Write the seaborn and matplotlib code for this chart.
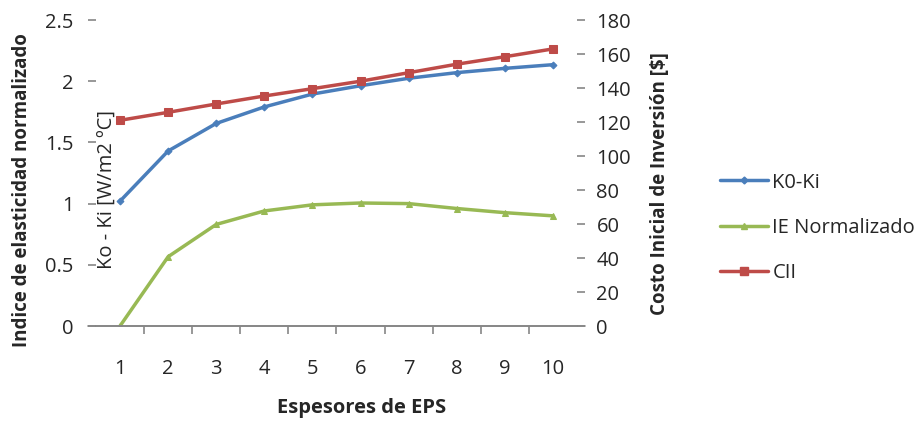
import numpy as np
import pandas as pd
import matplotlib.pyplot as plt
import seaborn as sns
from matplotlib.lines import Line2D

# data
espesores = [1, 2, 3, 4, 5, 6, 7, 8, 9, 10]
k0_ki = [1.02, 1.43, 1.655, 1.79, 1.895, 1.963, 2.024, 2.07, 2.105, 2.135]
ie_norm = [0.0, 0.566, 0.83, 0.94, 0.99, 1.005, 1.0, 0.96, 0.926, 0.90]
cii = [121.0, 125.7, 130.6, 135.3, 139.6, 144.0, 149.0, 154.0, 158.4, 163.0]

df = pd.DataFrame({"esp": espesores, "k": k0_ki, "ie": ie_norm, "cii": cii})

sns.set_style("white")
plt.rcParams["font.family"] = ["Open Sans", "DejaVu Sans"]

blue = "#4A7EBB"
green = "#98B954"
red = "#BE4B48"
grey = "#868686"

fig = plt.figure(figsize=(9.21, 4.23), dpi=100)
ax = fig.add_axes([0.1042, 0.2293, 0.5223, 0.7234])
ax2 = ax.twinx()

sns.lineplot(data=df, x="esp", y="k", ax=ax, color=blue, lw=2.5,
             marker="D", ms=3.5, mec=blue, label="K0-Ki", legend=False)
sns.lineplot(data=df, x="esp", y="ie", ax=ax, color=green, lw=2.5,
             marker="^", ms=5, mec=green, label="IE Normalizado", legend=False)
sns.lineplot(data=df, x="esp", y="cii", ax=ax2, color=red, lw=2.5,
             marker="s", ms=6, mec=red, label="CII", legend=False)

ax.set_xlim(0.5, 10.5)
ax.set_ylim(0, 2.5)
ax2.set_ylim(0, 180)
ax.set_yticks([0, 0.5, 1, 1.5, 2, 2.5])
ax.set_yticklabels(["0", "0.5", "1", "1.5", "2", "2.5"])
ax2.set_yticks(range(0, 181, 20))
ax.set_xticks(espesores)
ax.set_xticks(np.arange(1.5, 10, 1), minor=True)

for a in (ax, ax2):
    for s in a.spines.values():
        s.set_visible(False)
ax.spines["bottom"].set_visible(True)
ax.spines["bottom"].set_color(grey)
ax.spines["bottom"].set_linewidth(1.2)
# axis line continues under the outer y ticks
ax.add_line(Line2D([-0.017, 1.017], [0, 0], transform=ax.transAxes,
                   color=grey, lw=1.2, clip_on=False))

ax.tick_params(axis="y", which="major", direction="out", length=6, width=1.2,
               color=grey, labelsize=14.5, pad=10, left=True)
ax2.tick_params(axis="y", which="major", direction="out", length=6, width=1.2,
                color=grey, labelsize=14.5, pad=8, right=True)
ax.tick_params(axis="x", which="major", length=0, labelsize=14.5, pad=24)
ax.tick_params(axis="x", which="minor", direction="out", length=6, width=1.2,
               color=grey, bottom=True)

ax.set_xlabel("Espesores de EPS", fontsize=14.5, fontweight="bold")
ax.xaxis.set_label_coords(0.553, -0.235)
ax.set_ylabel("Indice de elasticidad normalizado", fontsize=13.5,
              fontweight="bold")
ax.yaxis.set_label_coords(-0.133, 0.444)
ax2.set_ylabel("Costo Inicial de Inversión [$]", fontsize=13.5,
               fontweight="bold")
ax2.yaxis.set_label_coords(1.152, 0.464)
ax.text(0.025, 0.445, "Ko - Ki [W/m2 ºC]", transform=ax.transAxes,
        rotation=90, fontsize=14.5, ha="center", va="center")

handles = [Line2D([], [], color=blue, lw=2.5, marker="D", ms=3.5),
           Line2D([], [], color=green, lw=2.5, marker="^", ms=5),
           Line2D([], [], color=red, lw=2.5, marker="s", ms=6)]
fig.legend(handles, ["K0-Ki", "IE Normalizado", "CII"], loc="upper left",
           bbox_to_anchor=(0.762, 0.635), frameon=False, fontsize=14.5,
           handlelength=2.4, handletextpad=0.2, labelspacing=1.25)

fig.savefig("out.png", dpi=100)
